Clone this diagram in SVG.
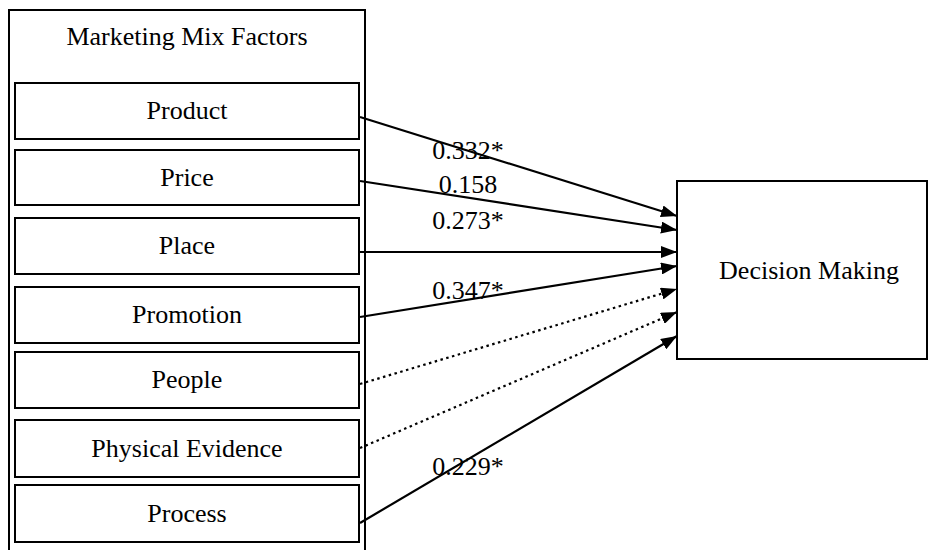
<svg xmlns="http://www.w3.org/2000/svg" width="929" height="550" viewBox="0 0 929 550">
<style>
.box{fill:#fff;stroke:#000;stroke-width:2}
.t{font-family:"Liberation Serif","Times New Roman",serif;font-size:26px;fill:#000;text-anchor:middle}
.c{stroke:#000;stroke-width:2.2;fill:none}
.d{stroke-dasharray:2.5 3.5}
</style>
<defs>
<marker id="ah" viewBox="0 0 16 12" refX="16" refY="6" markerWidth="16" markerHeight="12" markerUnits="userSpaceOnUse" orient="auto">
<path d="M0,0 L16,6 L0,12 z" fill="#000"/>
</marker>
</defs>
<g id="mix">
<rect class="box" x="9" y="10" width="356" height="545"/>
<text class="t" x="187" y="45">Marketing Mix Factors</text>
</g>
<g id="product"><rect class="box" x="15" y="83" width="344" height="56"/><text class="t" x="187" y="119">Product</text></g>
<g id="price"><rect class="box" x="15" y="150" width="344" height="55"/><text class="t" x="187" y="186">Price</text></g>
<g id="place"><rect class="box" x="15" y="218" width="344" height="56"/><text class="t" x="187" y="254">Place</text></g>
<g id="promotion"><rect class="box" x="15" y="287" width="344" height="56"/><text class="t" x="187" y="323">Promotion</text></g>
<g id="people"><rect class="box" x="15" y="352" width="344" height="56"/><text class="t" x="187" y="388">People</text></g>
<g id="physical"><rect class="box" x="15" y="420" width="344" height="57"/><text class="t" x="187" y="457">Physical Evidence</text></g>
<g id="process"><rect class="box" x="15" y="485" width="344" height="57"/><text class="t" x="187" y="522">Process</text></g>
<g id="decision"><rect class="box" x="677" y="181" width="250" height="178"/><text class="t" x="809" y="279">Decision Making</text></g>
<g id="connectors">
<line class="c" x1="360" y1="117" x2="677" y2="216" marker-end="url(#ah)"/>
<line class="c" x1="360" y1="181" x2="677" y2="230" marker-end="url(#ah)"/>
<line class="c" x1="360" y1="252" x2="677" y2="252" marker-end="url(#ah)"/>
<line class="c" x1="360" y1="317" x2="677" y2="266" marker-end="url(#ah)"/>
<line class="c d" x1="360" y1="384" x2="677" y2="289" marker-end="url(#ah)"/>
<line class="c d" x1="360" y1="448" x2="677" y2="312" marker-end="url(#ah)"/>
<line class="c" x1="360" y1="523" x2="677" y2="336" marker-end="url(#ah)"/>
<text class="t" x="468" y="159">0.332*</text>
<text class="t" x="468" y="193">0.158</text>
<text class="t" x="468" y="229">0.273*</text>
<text class="t" x="468" y="299">0.347*</text>
<text class="t" x="468" y="475">0.229*</text>
</g>
</svg>
